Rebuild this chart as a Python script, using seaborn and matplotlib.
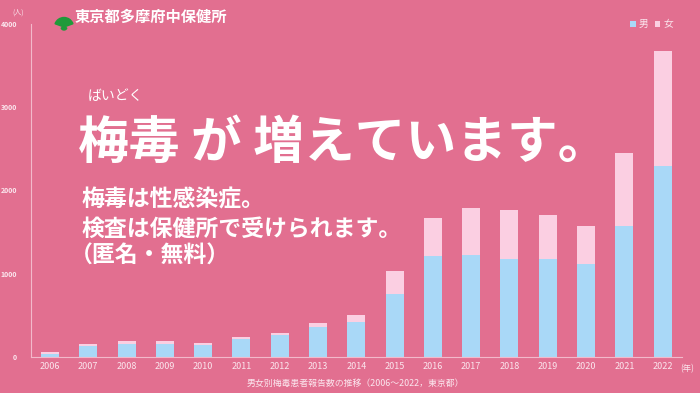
import numpy as np
import pandas as pd
import matplotlib.pyplot as plt
from matplotlib.patches import Wedge
import seaborn as sns

years = ['2006', '2007', '2008', '2009', '2010', '2011', '2012', '2013', '2014',
         '2015', '2016', '2017', '2018', '2019', '2020', '2021', '2022']
male = [30, 132, 160, 160, 140, 220, 260, 364, 420,
        760, 1213, 1225, 1177, 1180, 1117, 1574, 2294]
female = [23, 28, 36, 28, 32, 20, 28, 44, 85,
          277, 460, 561, 593, 526, 457, 873, 1382]
y_ticks = [0, 1000, 2000, 3000, 4000]

BG = '#e26f90'
BLUE = '#a9d8f7'
PINK = '#fbcfe2'
TXT = '#fbe6ee'

df = pd.DataFrame({'year': years, 'male': male, 'female': female})
df['total'] = df['male'] + df['female']

sns.set_theme(style='white')
plt.rcParams['font.family'] = ['Noto Sans CJK JP', 'DejaVu Sans']

fig = plt.figure(figsize=(7, 3.93), dpi=100, facecolor=BG)
ax = fig.add_axes([0.044, 0.092, 0.93, 0.847])
ax.set_facecolor(BG)

# stacked: total (women on top) then men drawn over it
sns.barplot(data=df, x='year', y='total', color=PINK, width=0.47,
            saturation=1, linewidth=0, ax=ax, label='女')
sns.barplot(data=df, x='year', y='male', color=BLUE, width=0.47,
            saturation=1, linewidth=0, ax=ax, label='男')

ax.set_xlim(-0.5, 16.5)
ax.set_ylim(0, 4000)
ax.set_yticks(y_ticks)
ax.set_yticklabels([str(t) for t in y_ticks], fontsize=5, color=TXT,
                   fontweight='bold')
ax.tick_params(axis='x', labelsize=6.5, colors=TXT, length=0, pad=4)
ax.tick_params(axis='y', length=2, color='#f3b9cb', pad=8)
ax.set_xlabel('')
ax.set_ylabel('')
for s in ['top', 'right']:
    ax.spines[s].set_visible(False)
for s in ['left', 'bottom']:
    ax.spines[s].set_color('#f3b9cb')
    ax.spines[s].set_linewidth(0.8)

# legend (男 / 女)
h, l = ax.get_legend_handles_labels()
leg = ax.legend(h[::-1], l[::-1], loc='upper right', bbox_to_anchor=(1.0, 1.04),
                ncol=2, frameon=False, fontsize=7, handlelength=0.6,
                handleheight=0.6, handletextpad=0.3, columnspacing=0.6)
for t in leg.get_texts():
    t.set_color(TXT)

fig.text(0.018, 0.968, '(人)', fontsize=5, color=TXT, va='center')
fig.text(0.972, 0.061, '(年)', fontsize=6, color=TXT, va='center')
fig.text(0.507, 0.025, '男女別梅毒患者報告数の推移（2006～2022，東京都）',
         fontsize=6.4, color=TXT, ha='center', va='center')

# header: logo + office name
leaf = Wedge((0.64, 3.66), 0.095, 20, 160, color='#1f9a3a',
             transform=fig.dpi_scale_trans, figure=fig)
fig.patches.append(leaf)
stem = Wedge((0.64, 3.66), 0.03, 200, 340, color='#1f9a3a',
             transform=fig.dpi_scale_trans, figure=fig)
fig.patches.append(stem)
fig.text(0.106, 0.956, '東京都多摩府中保健所', fontsize=11, color='white',
         fontweight='bold', va='center')

# headline
fig.text(0.126, 0.755, 'ばいどく', fontsize=10, color='white', va='center')
fig.text(0.112, 0.634, '梅毒 が 増えています。', fontsize=36.5, color='white',
         fontweight='bold', va='center')
fig.text(0.117, 0.49, '梅毒は性感染症。', fontsize=16.5, color='white',
         fontweight='bold', va='center')
fig.text(0.117, 0.417, '検査は保健所で受けられます。', fontsize=16.5,
         color='white', fontweight='bold', va='center')
fig.text(0.100, 0.348, '（匿名・無料）', fontsize=16.5, color='white',
         fontweight='bold', va='center')

fig.savefig('out.png', dpi=100, facecolor=BG)
